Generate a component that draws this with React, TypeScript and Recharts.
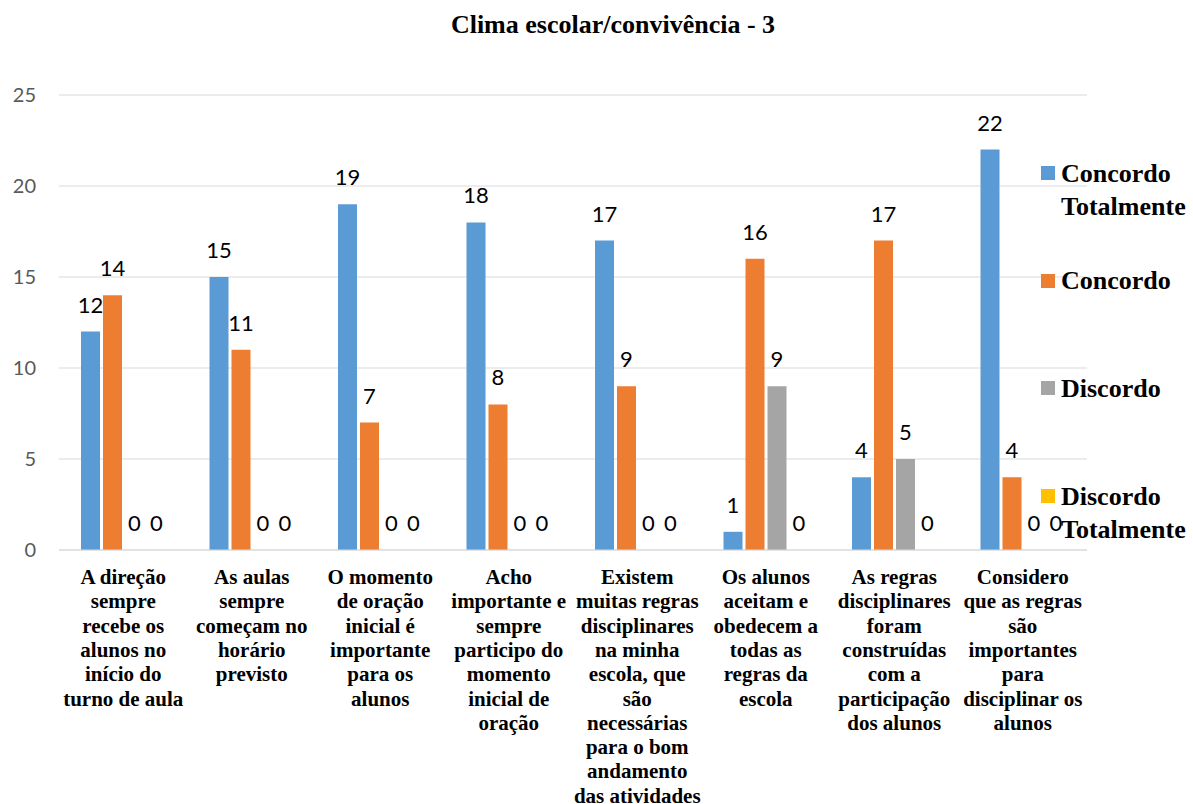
import React from "react";
import {
  Bar,
  BarChart,
  CartesianGrid,
  LabelList,
  Legend,
  XAxis,
  YAxis,
} from "recharts";

// Perguntas do bloco "Clima escolar/convivência - 3" (quebras de linha como no relatório)
const categories = [
  "A direção\nsempre\nrecebe os\nalunos no\ninício do\nturno de aula",
  "As aulas\nsempre\ncomeçam no\nhorário\nprevisto",
  "O momento\nde oração\ninicial é\nimportante\npara os\nalunos",
  "Acho\nimportante e\nsempre\nparticipo do\nmomento\ninicial de\noração",
  "Existem\nmuitas regras\ndisciplinares\nna minha\nescola, que\nsão\nnecessárias\npara o bom\nandamento\ndas atividades",
  "Os alunos\naceitam e\nobedecem a\ntodas as\nregras da\nescola",
  "As regras\ndisciplinares\nforam\nconstruídas\ncom a\nparticipação\ndos alunos",
  "Considero\nque as regras\nsão\nimportantes\npara\ndisciplinar os\nalunos",
];

const concordoTotalmente = [12, 15, 19, 18, 17, 1, 4, 22];
const concordo = [14, 11, 7, 8, 9, 16, 17, 4];
const discordo = [0, 0, 0, 0, 0, 9, 5, 0];
const discordoTotalmente = [0, 0, 0, 0, 0, 0, 0, 0];

const yTicks = [0, 5, 10, 15, 20, 25];

const series = [
  { key: "ct", name: "Concordo Totalmente", color: "#5B9BD5", values: concordoTotalmente },
  { key: "c", name: "Concordo", color: "#ED7D31", values: concordo },
  { key: "d", name: "Discordo", color: "#A5A5A5", values: discordo },
  { key: "dt", name: "Discordo Totalmente", color: "#FFC000", values: discordoTotalmente },
];

const data = categories.map((label, i) => {
  const row: Record<string, string | number> = { label };
  series.forEach((s) => {
    row[s.key] = s.values[i];
  });
  return row;
});

const SERIF = '"Liberation Serif", "Times New Roman", serif';
const SANS = 'Lato, "Liberation Sans", sans-serif';

function CategoryTick({ x, y, payload }: any) {
  const lines = String(payload.value).split("\n");
  return (
    <text
      x={x}
      y={y}
      textAnchor="middle"
      fontFamily={SERIF}
      fontWeight="bold"
      fontSize={21}
      fill="#000"
    >
      {lines.map((line, i) => (
        <tspan key={i} x={x} dy={i === 0 ? 34 : 24.3}>
          {line}
        </tspan>
      ))}
    </text>
  );
}

function SideLegend() {
  return (
    <div style={{ position: "relative", width: 152 }}>
      {series.map((s, i) => (
        <div
          key={s.key}
          style={{
            position: "absolute",
            left: 0,
            top: i * 107.7,
            display: "flex",
            alignItems: "flex-start",
          }}
        >
          <span
            style={{
              width: 14,
              height: 14,
              background: s.color,
              marginTop: 9.5,
              marginRight: 6,
              flex: "none",
            }}
          />
          <span
            style={{
              fontFamily: SERIF,
              fontWeight: "bold",
              fontSize: 26,
              lineHeight: "33px",
              color: "#000",
              width: 132,
            }}
          >
            {s.name}
          </span>
        </div>
      ))}
    </div>
  );
}

export default function App() {
  return (
    <div
      style={{
        position: "absolute",
        left: 0,
        top: 0,
        width: 1193,
        height: 804,
        background: "#fff",
      }}
    >
      <div
        style={{
          position: "absolute",
          top: 10,
          left: 0,
          width: 1226,
          textAlign: "center",
          fontFamily: SERIF,
          fontWeight: "bold",
          fontSize: 26,
          lineHeight: "30px",
          color: "#000",
        }}
      >
        Clima escolar/convivência - 3
      </div>
      <BarChart
        width={1193}
        height={804}
        data={data}
        margin={{ top: 95, right: 106, left: 0, bottom: 14 }}
        barSize={19}
        barGap={3}
      >
        <CartesianGrid vertical={false} stroke="#D9D9D9" />
        <XAxis
          dataKey="label"
          interval={0}
          height={240}
          tickLine={false}
          tickSize={0}
          tickMargin={0}
          axisLine={{ stroke: "#D9D9D9" }}
          tick={<CategoryTick />}
        />
        <YAxis
          width={59}
          domain={[0, 25]}
          ticks={yTicks}
          axisLine={false}
          tickLine={false}
          tickSize={0}
          tickMargin={23}
          tick={{ fontFamily: SANS, fontSize: 20, fill: "#595959" }}
        />
        <Legend
          layout="vertical"
          align="center"
          verticalAlign="middle"
          wrapperStyle={{ left: 1041, top: 156.5, width: 152 }}
          content={<SideLegend />}
        />
        {series.map((s) => (
          <Bar
            key={s.key}
            dataKey={s.key}
            name={s.name}
            fill={s.color}
            minPointSize={0.01}
            isAnimationActive={false}
          >
            <LabelList
              dataKey={s.key}
              position="top"
              offset={19}
              fontFamily={SANS}
              fontSize={22}
              fill="#000"
            />
          </Bar>
        ))}
      </BarChart>
    </div>
  );
}
